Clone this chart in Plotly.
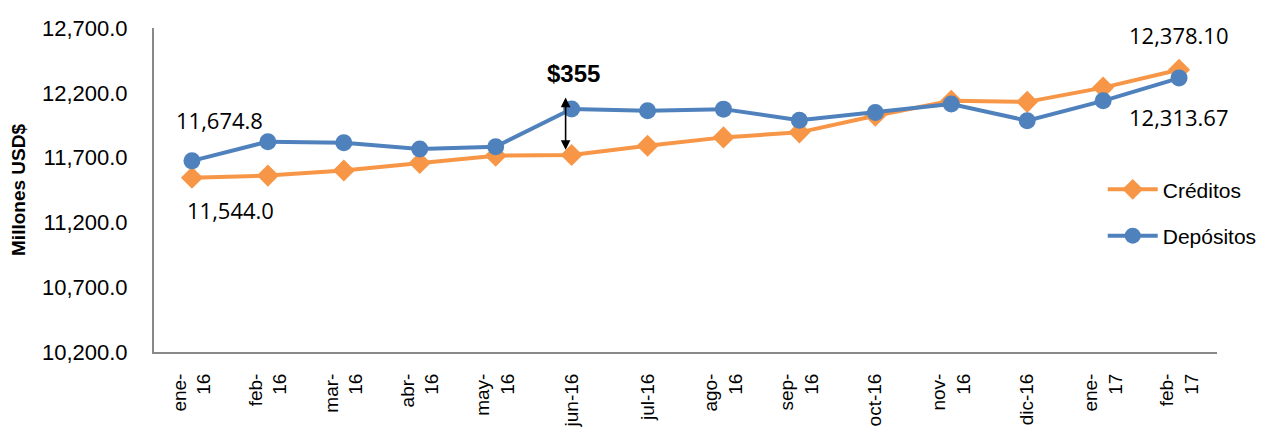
import plotly.graph_objects as go

# -----------------------------------------------------------------------------
# DATA (Millones USD$)
# -----------------------------------------------------------------------------
meses = ["ene-<br>16", "feb-<br>16", "mar-<br>16", "abr-<br>16", "may-<br>16", "jun-16", "jul-16",
         "ago-<br>16", "sep-<br>16", "oct-16", "nov-<br>16", "dic-16", "ene-<br>17", "feb-<br>17"]

creditos = [11544.0, 11561, 11600, 11659, 11715, 11720, 11792,
            11856, 11895, 12023, 12138, 12130, 12240, 12378.10]

depositos = [11674.8, 11823, 11815, 11766, 11784, 12075, 12061,
             12074, 11989, 12048, 12113, 11985, 12138, 12313.67]

NARANJA = "#F79646"
AZUL = "#4F81BD"
GRIS = "#898989"

fig = go.Figure()

fig.add_trace(go.Scatter(
    x=meses, y=creditos, name="Créditos", mode="lines+markers",
    line=dict(color=NARANJA, width=4),
    marker=dict(symbol="diamond", size=17, color=NARANJA),
    legendgroup="c"
))

fig.add_trace(go.Scatter(
    x=meses, y=depositos, name="Depósitos", mode="lines+markers",
    line=dict(color=AZUL, width=4),
    marker=dict(symbol="circle", size=17, color=AZUL),
    legendgroup="d"
))

# -----------------------------------------------------------------------------
# ETIQUETAS
# -----------------------------------------------------------------------------
lbl_font = dict(family="Open Sans, Noto Sans, sans-serif", size=22, color="black")

def etiqueta(x, y, texto, dx, dy):
    fig.add_annotation(x=x, y=y, text=texto, showarrow=False,
                       xshift=dx, yshift=dy, font=lbl_font)

etiqueta(meses[0], depositos[0], f"{depositos[0]:,.1f}", 28, 41)
etiqueta(meses[0], creditos[0], f"{creditos[0]:,.1f}", 39, -32)
etiqueta(meses[-1], creditos[-1], f"{creditos[-1]:,.2f}", 0, 35)
etiqueta(meses[-1], depositos[-1], f"{depositos[-1]:,.2f}", 0, -39)

# brecha en junio
brecha = depositos[5] - creditos[5]
fig.add_annotation(
    x=meses[5], y=depositos[5], text=f"<b>${brecha:,.0f}</b>", showarrow=False,
    yshift=36, xshift=2,
    font=dict(family="Liberation Sans Narrow, Liberation Sans, Arial", size=24, color="black")
)
fig.add_annotation(
    x=meses[5], y=creditos[5] + 40, ax=meses[5], ay=depositos[5] + 100,
    axref="x", ayref="y", xref="x", yref="y",
    showarrow=True, arrowside="end+start", arrowhead=2, arrowsize=1.2,
    arrowwidth=1.6, arrowcolor="black", text="", xshift=-6
)

# -----------------------------------------------------------------------------
# LAYOUT  (página con margen de 8px -> figura 1271x422)
# -----------------------------------------------------------------------------
fig.update_layout(
    width=1271, height=422,
    margin=dict(l=146, r=62, t=20, b=78, autoexpand=False),
    plot_bgcolor="white", paper_bgcolor="white",
    font=dict(family="Liberation Sans, Arial, sans-serif", color="black"),
    showlegend=True,
    legend=dict(
        x=0.8925, y=0.43, xanchor="left", yanchor="middle",
        font=dict(size=21, family="Liberation Sans, Arial"),
        bgcolor="rgba(0,0,0,0)", tracegroupgap=16, itemwidth=50
    )
)

fig.update_xaxes(
    type="category", range=[-0.5, 13.5], automargin=False,
    showline=True, linecolor=GRIS, linewidth=2,
    showgrid=False, ticks="", tickangle=-90,
    tickfont=dict(size=19), ticklabelstandoff=12
)

fig.update_yaxes(
    range=[10200, 12700], dtick=500, tick0=10200, tickformat=",.1f",
    automargin=False,
    showline=True, linecolor=GRIS, linewidth=2,
    showgrid=False, ticks="", zeroline=False,
    tickfont=dict(size=22), ticklabelstandoff=20,
    title=dict(text="<b>Millones USD$</b>", font=dict(size=19), standoff=14)
)

fig.write_html("out.html")
